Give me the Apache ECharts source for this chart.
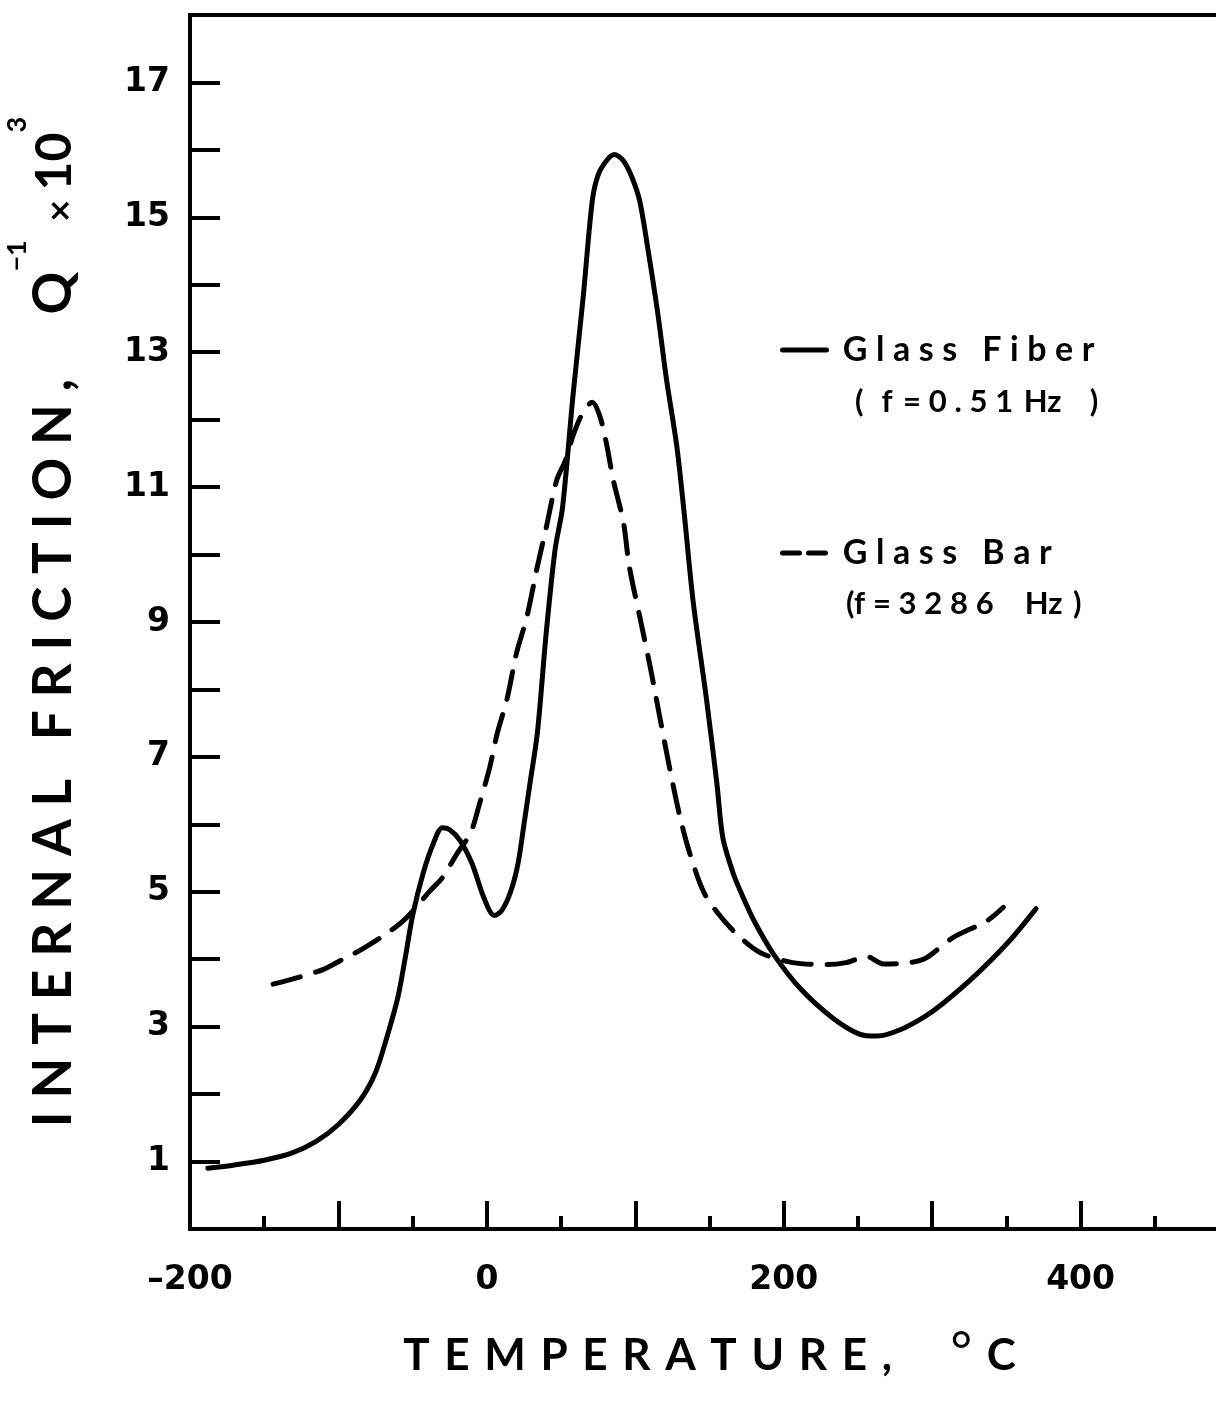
<!DOCTYPE html>
<html>
<head>
<meta charset="utf-8">
<script src="https://cdn.jsdelivr.net/npm/echarts@6/dist/echarts.min.js"></script>
<style>
html,body{margin:0;padding:0;background:#fff;}
#chart{width:1216px;height:1410px;}
</style>
</head>
<body>
<div id="chart"></div>
<script>
// Glass Fiber (f = 0.51 Hz) — solid curve
var fiberT = [-188, -170, -150, -132, -115, -100, -85, -75, -67, -60, -55, -50, -43, -36, -30, -25, -18, -10, -2, 5, 10, 16, 21, 25, 29, 34, 40, 46, 51, 58, 65, 71, 75, 81, 86, 92, 98, 103, 108, 115, 121, 128, 133, 139, 148, 155, 159, 166, 172, 180, 193, 211, 233, 251, 263, 278, 295, 307, 330, 352, 370];
var fiberV = [0.9, 0.95, 1.02, 1.12, 1.3, 1.55, 1.92, 2.32, 2.87, 3.43, 4.02, 4.65, 5.27, 5.72, 5.95, 5.92, 5.76, 5.42, 4.91, 4.65, 4.72, 5.0, 5.42, 6.0, 6.6, 7.35, 8.84, 10.08, 10.7, 12.35, 13.84, 15.24, 15.63, 15.85, 15.93, 15.84, 15.58, 15.24, 14.6, 13.6, 12.6, 11.6, 10.6, 9.3, 7.85, 6.6, 5.8, 5.27, 4.95, 4.57, 4.08, 3.57, 3.13, 2.89, 2.86, 2.95, 3.15, 3.34, 3.78, 4.27, 4.75];
// Glass Bar (f = 3286 Hz) — dashed curve
var barT = [-144, -124, -110, -97, -84, -65, -54, -38, -30, -20, -11, -5, 2, 7, 13.5, 20, 27, 34, 40, 47, 53, 58, 65, 71, 76, 81, 85, 92, 96, 103, 110, 116.5, 123, 130, 137, 146, 155, 168, 184, 206, 229, 242, 256, 267, 285, 296, 314, 337, 348];
var barV = [3.63, 3.75, 3.85, 4.0, 4.15, 4.42, 4.62, 5.02, 5.21, 5.57, 5.87, 6.3, 6.85, 7.35, 7.85, 8.54, 9.08, 9.82, 10.4, 11.1, 11.4, 11.76, 12.12, 12.26, 12.06, 11.6, 11.12, 10.48, 9.82, 9.08, 8.34, 7.59, 6.85, 6.12, 5.55, 5.0, 4.7, 4.38, 4.1, 3.95, 3.92, 3.95, 4.04, 3.93, 3.95, 4.02, 4.32, 4.57, 4.77];

var seriesNames = ['Glass Fiber', 'Glass Bar'];
var xTitle = 'TEMPERATURE,';
var yTitle = 'INTERNAL FRICTION,';

// letter-spaced text (the original uses widely tracked lettering)
function spaced(s, sp) { return s.split('').join(sp || ' '); }
function zip(a, b) { return a.map(function (v, i) { return [v, b[i]]; }); }

var FONT = 'Lato';
var TICKFONT = 'DejaVu Sans';
var SP3 = '\u2004', SP4 = '\u2005';
var chart = echarts.init(document.getElementById('chart'), null, {renderer: 'canvas'});
chart.setOption({
  animation: false,
  backgroundColor: '#fff',
  grid: {
    left: 190, top: 15, right: -13, bottom: 181,
    show: true, borderColor: '#000', borderWidth: 4,
    containLabel: false, outerBoundsMode: 'none'
  },
  xAxis: {
    type: 'value', min: -200, max: 500, interval: 100,
    axisLine: {show: true, onZero: false, lineStyle: {color: '#000', width: 4}},
    axisTick: {show: true, inside: true, length: 28, lineStyle: {color: '#000', width: 4}},
    minorTick: {show: true, splitNumber: 2, length: 13, lineStyle: {color: '#000', width: 4}},
    splitLine: {show: false},
    axisLabel: {
      margin: 35, fontSize: 33, fontWeight: 'bold', fontFamily: TICKFONT, color: '#000',
      formatter: function (v) { return v % 200 === 0 ? (v < 0 ? '\u2013' + (-v) : String(v)) : ''; }
    },
    name: '{t|' + spaced(xTitle, SP3) + SP3 + SP3 + SP3 + SP3 + '}{d|°}{t|' + SP3 + 'C}',
    nameLocation: 'middle', nameGap: 93,
    nameTextStyle: {
      fontFamily: FONT, color: '#000',
      rich: {
        t: {fontSize: 44, fontWeight: 'bold', fontFamily: FONT, color: '#000', lineHeight: 56, verticalAlign: 'bottom'},
        d: {fontSize: 52, fontWeight: 'normal', fontFamily: FONT, color: '#000', lineHeight: 56, verticalAlign: 'bottom'}
      }
    }
  },
  yAxis: {
    type: 'value', min: 0, max: 18, interval: 1,
    axisLine: {show: true, onZero: false, lineStyle: {color: '#000', width: 4}},
    axisTick: {show: true, inside: true, length: 30, lineStyle: {color: '#000', width: 4}},
    splitLine: {show: false},
    axisLabel: {
      margin: 20, fontSize: 33, fontWeight: 'bold', fontFamily: TICKFONT, color: '#000',
      formatter: function (v) { return v % 2 === 1 ? String(v) : ''; }
    },
    name: '{m|' + spaced(yTitle) + '     Q}{s|\u22121}{x|  \u00d7 }{n|10}{s|3}',
    nameLocation: 'middle', nameGap: 110, nameRotate: 90,
    nameTextStyle: {
      fontFamily: FONT, color: '#000',
      rich: {
        m: {fontSize: 53, fontWeight: 'bold', fontFamily: FONT, color: '#000', lineHeight: 76, verticalAlign: 'bottom'},
        x: {fontSize: 38, fontWeight: 'bold', fontFamily: FONT, color: '#000', lineHeight: 76, verticalAlign: 'bottom'},
        n: {fontSize: 50, fontWeight: 'bold', fontFamily: FONT, color: '#000', lineHeight: 76, verticalAlign: 'bottom'},
        s: {fontSize: 27, fontWeight: 'bold', fontFamily: FONT, color: '#000', lineHeight: 34, verticalAlign: 'top'}
      }
    }
  },
  legend: {
    orient: 'vertical', left: 775, top: 325, itemGap: 163,
    itemWidth: 44, itemHeight: 20,
    itemStyle: {color: 'rgba(0,0,0,0)', borderWidth: 0, opacity: 0},
    data: [
      {name: seriesNames[0], lineStyle: {color: '#000', width: 5, type: 'solid'}},
      {name: seriesNames[1], lineStyle: {color: '#000', width: 5, type: [17, 9]}}
    ],
    formatter: function (n) { return SP3 + spaced(n, SP4); },
    textStyle: {fontSize: 34, fontWeight: 'bold', fontFamily: FONT, color: '#000', lineHeight: 40}
  },
  graphic: [
    {type: 'text', left: 855, top: 386, style: {text: '(' + SP3 + SP4 + 'f' + SP3 + '=' + SP4 + '0' + SP4 + '.' + SP4 + '5' + SP4 + '1' + SP3 + 'Hz' + SP3 + SP3 + SP4 + ')', fontSize: 31, fontWeight: 'bold', fontFamily: FONT, fill: '#000'}},
    {type: 'text', left: 846, top: 588, style: {text: '(f' + SP4 + '=' + SP4 + spaced('3286', SP4) + SP3 + SP3 + SP3 + 'Hz' + SP3 + ')', fontSize: 31, fontWeight: 'bold', fontFamily: FONT, fill: '#000'}}
  ],
  series: [
    {
      name: seriesNames[0], type: 'line', data: zip(fiberT, fiberV),
      symbol: 'none', showSymbol: false, smooth: 0.3,
      lineStyle: {color: '#000', width: 5, type: 'solid', cap: 'round', join: 'round'},
      itemStyle: {color: '#000'}
    },
    {
      name: seriesNames[1], type: 'line', data: zip(barT, barV),
      symbol: 'none', showSymbol: false, smooth: 0.3,
      lineStyle: {color: '#000', width: 5, type: [28, 16], cap: 'round', join: 'round'},
      itemStyle: {color: '#000'}
    }
  ]
});
</script>
</body>
</html>
